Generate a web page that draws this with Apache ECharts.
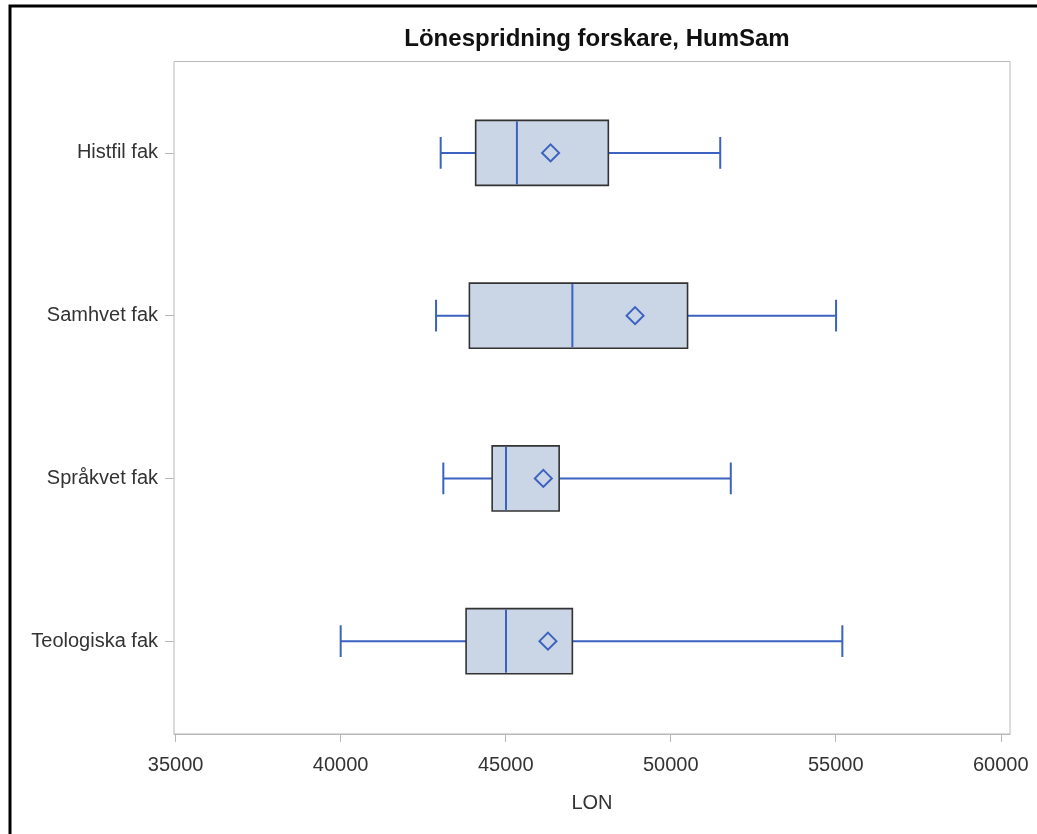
<!DOCTYPE html>
<html>
<head>
<meta charset="utf-8">
<script src="https://cdn.jsdelivr.net/npm/echarts@6/dist/echarts.min.js"></script>
<style>
html,body{margin:0;padding:0;background:#fff;}
#chart{width:1037px;height:834px;}
</style>
</head>
<body>
<div id="chart"></div>
<script>
// Data
const categories = ['Histfil fak', 'Samhvet fak', 'Språkvet fak', 'Teologiska fak'];
const whiskerLow  = [43030, 42890, 43110, 40000];
const q1Values    = [44090, 43900, 44590, 43800];
const medians     = [45340, 47020, 45010, 45010];
const q3Values    = [48110, 50510, 46620, 47020];
const whiskerHigh = [51500, 55010, 51820, 55200];
const means       = [46360, 48920, 46140, 46280];
const tickValues  = [35000, 40000, 45000, 50000, 55000, 60000];

const boxData = categories.map((c, i) => [i, whiskerLow[i], q1Values[i], medians[i], q3Values[i], whiskerHigh[i], means[i]]);

const BLUE = '#3b62c0';
const FILL = '#cad5e5';
const X_MIN = 34950, X_MAX = 60280;
const FONT = 'Liberation Sans, Arial, sans-serif';

function renderItem(params, api) {
  const ci = api.value(0);
  const vMin = api.value(1), vQ1 = api.value(2), vMed = api.value(3),
        vQ3 = api.value(4), vMax = api.value(5), vMean = api.value(6);
  const band = api.size([0, 1])[1];
  const pMin = api.coord([vMin, ci]);
  const pQ1 = api.coord([vQ1, ci]);
  const pMed = api.coord([vMed, ci]);
  const pQ3 = api.coord([vQ3, ci]);
  const pMax = api.coord([vMax, ci]);
  const pMean = api.coord([vMean, ci]);
  const cy = pMin[1];
  const boxH = band * 0.4;
  const capH = band * 0.195;
  const d = 8.5;
  const lineStyle = {stroke: BLUE, lineWidth: 2, fill: null};
  return {
    type: 'group',
    children: [
      {type: 'line', shape: {x1: pMin[0], y1: cy, x2: pQ1[0], y2: cy}, style: lineStyle},
      {type: 'line', shape: {x1: pQ3[0], y1: cy, x2: pMax[0], y2: cy}, style: lineStyle},
      {type: 'line', shape: {x1: pMin[0], y1: cy - capH / 2, x2: pMin[0], y2: cy + capH / 2}, style: lineStyle},
      {type: 'line', shape: {x1: pMax[0], y1: cy - capH / 2, x2: pMax[0], y2: cy + capH / 2}, style: lineStyle},
      {type: 'rect', shape: {x: pQ1[0], y: cy - boxH / 2, width: pQ3[0] - pQ1[0], height: boxH},
        style: {fill: FILL, stroke: '#333333', lineWidth: 1.6}},
      {type: 'line', shape: {x1: pMed[0], y1: cy - boxH / 2 + 1, x2: pMed[0], y2: cy + boxH / 2 - 1}, style: lineStyle},
      {type: 'polygon', shape: {points: [[pMean[0], cy - d], [pMean[0] + d, cy], [pMean[0], cy + d], [pMean[0] - d, cy]]},
        style: {fill: null, stroke: BLUE, lineWidth: 2}}
    ]
  };
}

const chart = echarts.init(document.getElementById('chart'), null, {renderer: 'canvas'});
const option = {
  animation: false,
  backgroundColor: '#fff',
  textStyle: {fontFamily: FONT},
  title: {
    text: 'Lönespridning forskare, HumSam',
    left: 592,
    textAlign: 'center',
    top: 22,
    textStyle: {fontSize: 24, fontWeight: 'bold', color: '#111', fontFamily: FONT}
  },
  graphic: [{
    type: 'rect', silent: true, z: -1,
    shape: {x: 10, y: 6, width: 1060, height: 860},
    style: {fill: null, stroke: '#000', lineWidth: 3}
  }],
  grid: [
    {left: 174, top: 71.5, width: 836, height: 651},
    {left: 174, top: 61.5, width: 836, height: 672.5, show: true, borderColor: '#b8b8b8', borderWidth: 1, backgroundColor: 'transparent'}
  ],
  xAxis: [
    {gridIndex: 0, type: 'value', min: X_MIN, max: X_MAX, show: false},
    {
      gridIndex: 1, type: 'value', min: X_MIN, max: X_MAX,
      axisLine: {show: true, lineStyle: {color: '#b8b8b8', width: 1}},
      axisTick: {show: true, length: 8, customValues: tickValues, lineStyle: {color: '#b8b8b8'}},
      axisLabel: {customValues: tickValues, formatter: v => String(v), fontSize: 20, color: '#333', margin: 21, fontFamily: FONT},
      splitLine: {show: false},
      name: 'LON', nameLocation: 'middle', nameGap: 59,
      nameTextStyle: {fontSize: 20, color: '#333', fontFamily: FONT}
    }
  ],
  yAxis: [
    {
      gridIndex: 0, type: 'category', data: categories, inverse: true,
      axisLine: {show: false},
      axisTick: {show: true, length: 9, alignWithLabel: true, lineStyle: {color: '#b8b8b8'}},
      axisLabel: {fontSize: 20, color: '#333', margin: 16, interval: 0, fontFamily: FONT},
      splitLine: {show: false}
    },
    {gridIndex: 1, type: 'value', show: false}
  ],
  series: [{
    type: 'custom',
    xAxisIndex: 0, yAxisIndex: 0,
    renderItem: renderItem,
    encode: {x: [1, 2, 3, 4, 5, 6], y: 0},
    data: boxData
  }]
};
chart.setOption(option);
</script>
</body>
</html>
